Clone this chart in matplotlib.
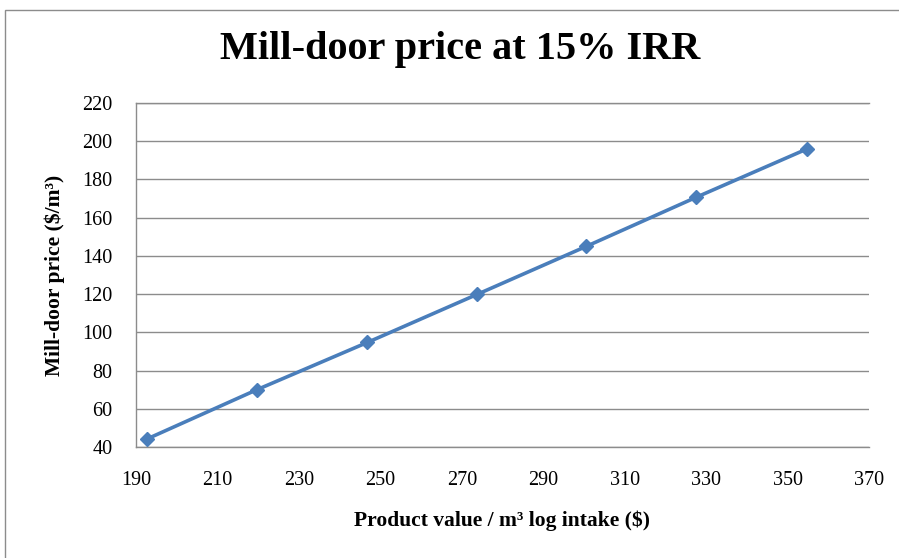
import matplotlib
matplotlib.use("Agg")
import matplotlib.pyplot as plt
from matplotlib.patches import Rectangle

product_value = [192.7, 219.6, 246.8, 273.7, 300.6, 327.6, 354.7]
mill_door_price = [44.2, 69.9, 94.7, 119.8, 145.0, 170.7, 195.9]
x_ticks = [190, 210, 230, 250, 270, 290, 310, 330, 350, 370]
y_ticks = [40, 60, 80, 100, 120, 140, 160, 180, 200, 220]

plt.rcParams['font.family'] = ['Liberation Serif', 'DejaVu Serif']

fig = plt.figure(figsize=(8.99, 5.58), dpi=100)
fig.patches.append(Rectangle((5/899, -0.01), 1.0, 1 - 10/558 + 0.01, transform=fig.transFigure,
                             fill=False, edgecolor='#8c8c8c', linewidth=1.0))
ax = fig.add_axes([136/899, 1 - 447/558, (869 - 136)/899, (447 - 103)/558])

ax.plot(product_value, mill_door_price, color='#4A7EBB', linewidth=2.6,
        marker='D', markersize=7.5, markerfacecolor='#4A7EBB', markeredgecolor='#4A7EBB',
        clip_on=False, zorder=3)

ax.set_xlim(190, 370)
ax.set_ylim(40, 220)
ax.set_xticks(x_ticks)
ax.set_yticks(y_ticks)
ax.tick_params(axis='both', length=0, labelsize=14.5)
ax.tick_params(axis='x', pad=17)
ax.tick_params(axis='y', pad=17)
ax.yaxis.grid(True, color='#8c8c8c', linewidth=1.0)
ax.set_axisbelow(True)
ax.spines['right'].set_visible(False)
for s in ['left', 'bottom', 'top']:
    ax.spines[s].set_color('#8c8c8c')
    ax.spines[s].set_linewidth(1.0)

ax.set_xlabel('Product value / m³ log intake ($)', fontsize=15.5, fontweight='bold', labelpad=15)
ax.set_ylabel('Mill-door price ($/m³)', fontsize=15.5, fontweight='bold', labelpad=12)

fig.text(460/899, 1 - 50/558, 'Mill-door price at 15% IRR', ha='center', va='center',
         fontsize=29, fontweight='bold')

fig.savefig('out.png', dpi=100)
